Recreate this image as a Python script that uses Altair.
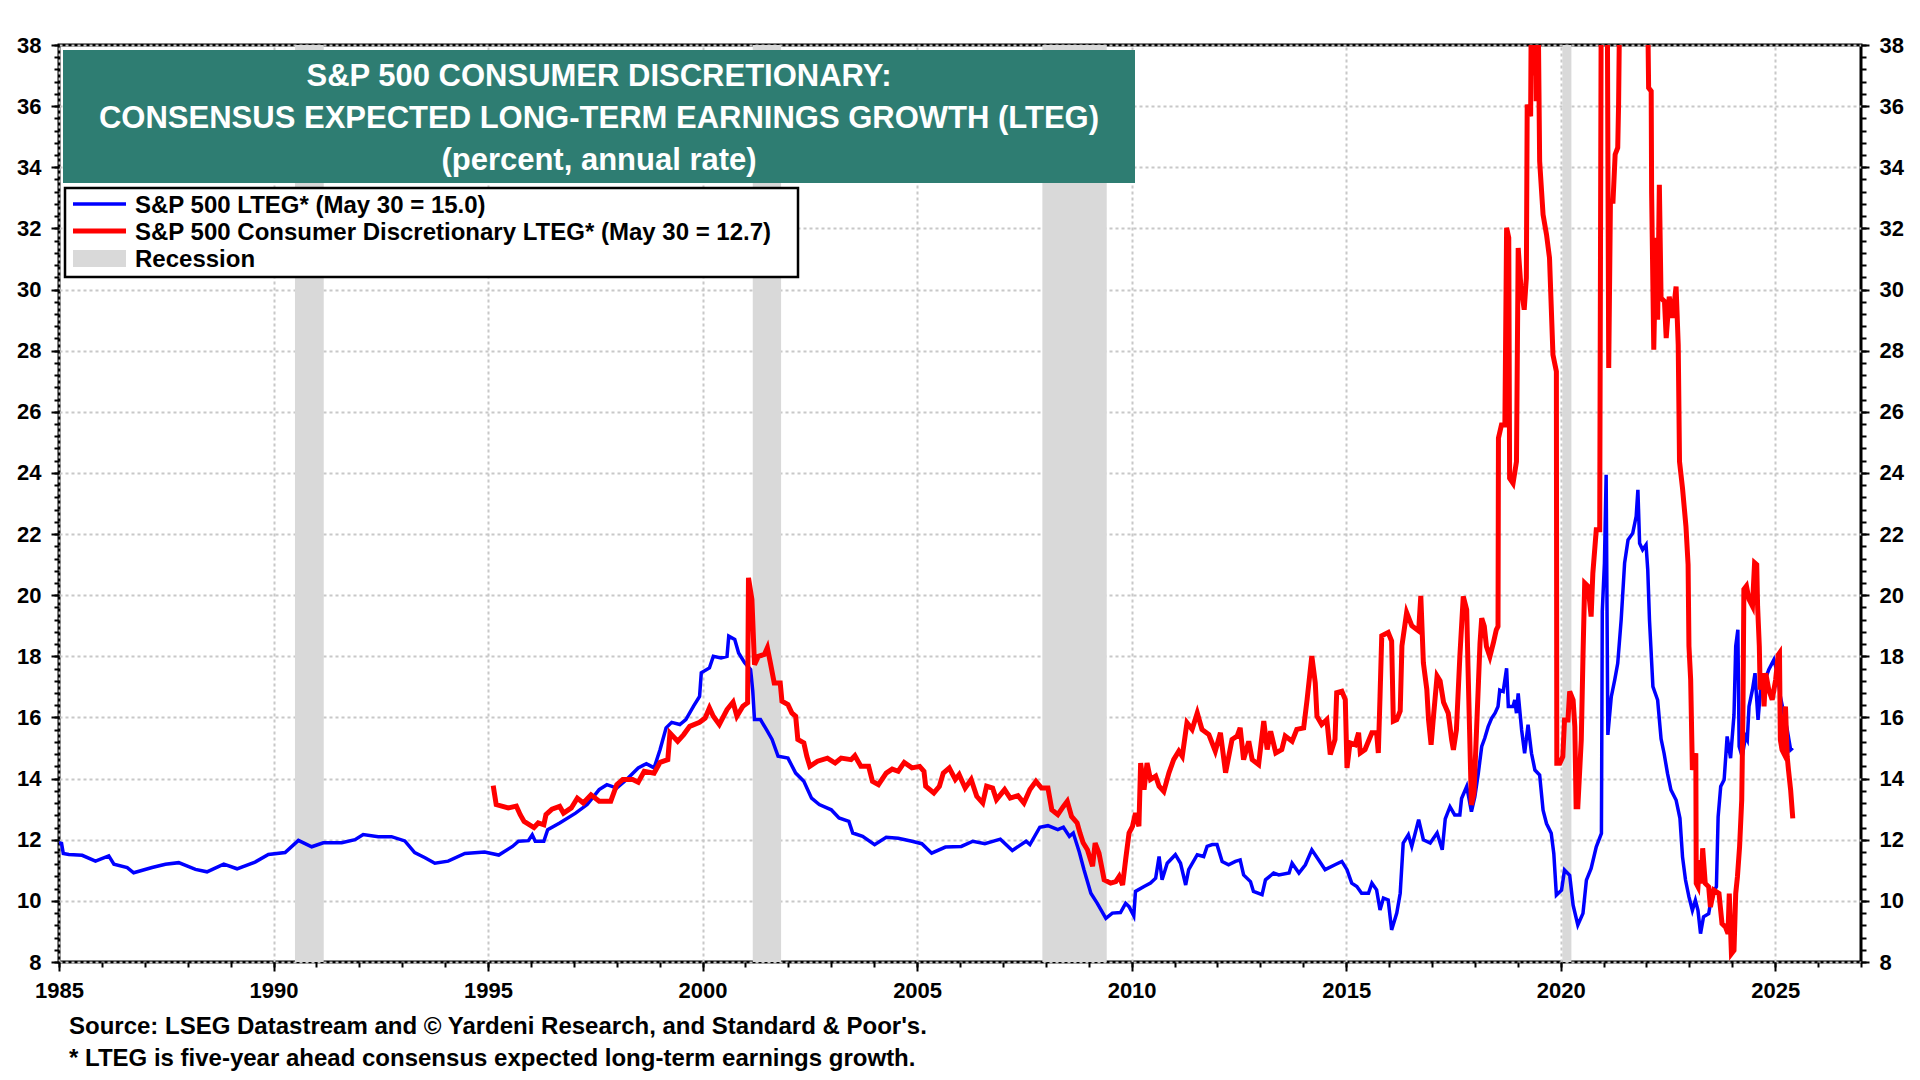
import altair as alt
import pandas as pd

# S&P 500 LTEG, percent (decimal year, value)
sp500_lteg = [
    (1985.00, 11.90), (1985.06, 11.88), (1985.10, 11.55), (1985.23, 11.52), (1985.54, 11.49),
    (1985.85, 11.30), (1986.16, 11.47), (1986.28, 11.20), (1986.59, 11.09), (1986.74, 10.92),
    (1987.17, 11.09), (1987.48, 11.20), (1987.79, 11.25), (1988.18, 11.03), (1988.45, 10.95),
    (1988.84, 11.20), (1989.15, 11.05), (1989.57, 11.27), (1989.88, 11.52), (1990.27, 11.58),
    (1990.58, 11.98), (1990.89, 11.77), (1991.16, 11.90), (1991.59, 11.90), (1991.90, 12.00),
    (1992.09, 12.17), (1992.44, 12.10), (1992.75, 12.10), (1993.06, 11.96), (1993.29, 11.58),
    (1993.53, 11.41), (1993.76, 11.23), (1994.07, 11.30), (1994.46, 11.55), (1994.92, 11.60),
    (1995.25, 11.50), (1995.57, 11.78), (1995.71, 11.95), (1995.94, 11.97), (1996.03, 12.16),
    (1996.10, 11.95), (1996.30, 11.95), (1996.39, 12.33), (1996.67, 12.55), (1997.04, 12.87),
    (1997.31, 13.15), (1997.59, 13.64), (1997.77, 13.80), (1998.00, 13.69), (1998.23, 13.97),
    (1998.50, 14.35), (1998.69, 14.49), (1998.87, 14.35), (1999.01, 14.95), (1999.15, 15.66),
    (1999.28, 15.84), (1999.47, 15.77), (1999.61, 15.93), (1999.79, 16.37), (1999.93, 16.69),
    (1999.97, 17.46), (2000.16, 17.62), (2000.25, 18.00), (2000.43, 17.95), (2000.57, 18.00),
    (2000.61, 18.66), (2000.75, 18.55), (2000.84, 18.11), (2000.98, 17.79), (2001.12, 17.57),
    (2001.17, 16.86), (2001.21, 15.93), (2001.35, 15.93), (2001.49, 15.60), (2001.62, 15.28),
    (2001.76, 14.73), (2001.99, 14.67), (2002.17, 14.18), (2002.36, 13.91), (2002.54, 13.36),
    (2002.72, 13.15), (2003.00, 12.98), (2003.18, 12.71), (2003.41, 12.60), (2003.50, 12.22),
    (2003.73, 12.11), (2004.01, 11.84), (2004.28, 12.08), (2004.56, 12.05), (2004.88, 11.95),
    (2005.11, 11.87), (2005.34, 11.56), (2005.66, 11.76), (2006.03, 11.78), (2006.30, 11.95),
    (2006.58, 11.87), (2006.94, 12.02), (2007.22, 11.65), (2007.54, 11.95), (2007.63, 11.84),
    (2007.86, 12.41), (2008.05, 12.46), (2008.28, 12.33), (2008.41, 12.41), (2008.55, 12.11),
    (2008.64, 12.22), (2008.78, 11.60), (2008.89, 11.02), (2009.05, 10.25), (2009.20, 9.92),
    (2009.40, 9.43), (2009.55, 9.60), (2009.74, 9.62), (2009.86, 9.92), (2009.94, 9.81),
    (2010.05, 9.51), (2010.09, 10.31), (2010.29, 10.47), (2010.44, 10.58), (2010.56, 10.74),
    (2010.64, 11.45), (2010.71, 10.69), (2010.83, 11.23), (2011.02, 11.51), (2011.14, 11.23),
    (2011.26, 10.52), (2011.33, 11.02), (2011.53, 11.51), (2011.68, 11.45), (2011.76, 11.78),
    (2011.88, 11.84), (2011.99, 11.84), (2012.11, 11.29), (2012.26, 11.18), (2012.42, 11.29),
    (2012.53, 11.34), (2012.61, 10.85), (2012.77, 10.63), (2012.84, 10.31), (2013.04, 10.20),
    (2013.12, 10.69), (2013.31, 10.91), (2013.43, 10.85), (2013.67, 10.91), (2013.74, 11.23),
    (2013.90, 10.91), (2014.05, 11.18), (2014.20, 11.67), (2014.36, 11.34), (2014.51, 11.02),
    (2014.74, 11.18), (2014.90, 11.29), (2015.02, 11.02), (2015.13, 10.58), (2015.25, 10.47),
    (2015.36, 10.25), (2015.52, 10.25), (2015.60, 10.58), (2015.71, 10.36), (2015.79, 9.70),
    (2015.87, 10.09), (2015.98, 10.03), (2016.06, 9.05), (2016.18, 9.60), (2016.26, 10.25),
    (2016.33, 11.89), (2016.45, 12.16), (2016.53, 11.78), (2016.69, 12.66), (2016.80, 12.00),
    (2016.96, 11.89), (2017.12, 12.22), (2017.24, 11.67), (2017.31, 12.68), (2017.42, 13.08),
    (2017.53, 12.81), (2017.65, 12.81), (2017.69, 13.35), (2017.81, 13.74), (2017.92, 12.92),
    (2018.00, 13.41), (2018.08, 14.17), (2018.16, 15.05), (2018.23, 15.32), (2018.31, 15.70),
    (2018.39, 15.97), (2018.47, 16.14), (2018.54, 16.36), (2018.58, 16.90), (2018.66, 16.85),
    (2018.74, 17.61), (2018.78, 16.36), (2018.89, 16.36), (2018.93, 16.57), (2018.97, 16.14),
    (2019.01, 16.79), (2019.09, 15.59), (2019.16, 14.83), (2019.24, 15.76), (2019.32, 14.83),
    (2019.40, 14.28), (2019.51, 14.12), (2019.59, 12.97), (2019.67, 12.53), (2019.78, 12.21),
    (2019.84, 11.55), (2019.90, 10.19), (2020.02, 10.35), (2020.09, 11.01), (2020.21, 10.84),
    (2020.29, 9.86), (2020.40, 9.21), (2020.52, 9.59), (2020.60, 10.68), (2020.71, 11.06),
    (2020.83, 11.77), (2020.95, 12.21), (2020.97, 19.47), (2021.02, 21.05), (2021.06, 23.94),
    (2021.10, 15.43), (2021.18, 16.68), (2021.26, 17.23), (2021.33, 17.77), (2021.41, 19.19),
    (2021.49, 21.05), (2021.57, 21.81), (2021.68, 22.03), (2021.76, 22.58), (2021.80, 23.45),
    (2021.84, 21.70), (2021.91, 21.49), (2021.99, 21.65), (2022.03, 20.83), (2022.07, 19.19),
    (2022.15, 17.01), (2022.26, 16.57), (2022.34, 15.30), (2022.41, 14.83), (2022.49, 14.17),
    (2022.57, 13.63), (2022.69, 13.30), (2022.78, 12.70), (2022.84, 11.44), (2022.91, 10.68),
    (2022.99, 10.13), (2023.07, 9.69), (2023.14, 10.02), (2023.20, 9.69), (2023.26, 8.93),
    (2023.33, 9.48), (2023.45, 9.58), (2023.53, 10.24), (2023.63, 10.46), (2023.67, 12.75),
    (2023.73, 13.74), (2023.81, 13.96), (2023.88, 15.38), (2023.96, 14.67), (2024.04, 16.09),
    (2024.08, 18.33), (2024.13, 18.87), (2024.16, 15.05), (2024.23, 14.72), (2024.31, 15.38),
    (2024.35, 15.27), (2024.39, 16.36), (2024.47, 16.91), (2024.53, 17.45), (2024.60, 15.92),
    (2024.66, 16.91), (2024.74, 17.13), (2024.85, 17.56), (2024.97, 17.89), (2025.05, 17.45),
    (2025.12, 16.69), (2025.20, 16.14), (2025.28, 15.60), (2025.36, 14.94), (2025.41, 15.00),
]

# S&P 500 Consumer Discretionary LTEG, percent (values above 38 run off the top)
discretionary_lteg = [
    (1995.12, 13.77), (1995.19, 13.15), (1995.47, 13.04), (1995.66, 13.10), (1995.75, 12.82),
    (1995.84, 12.60), (1996.07, 12.40), (1996.17, 12.55), (1996.30, 12.49), (1996.35, 12.82),
    (1996.49, 13.00), (1996.67, 13.09), (1996.76, 12.87), (1996.94, 13.04), (1997.08, 13.36),
    (1997.22, 13.20), (1997.40, 13.47), (1997.59, 13.26), (1997.86, 13.26), (1998.00, 13.80),
    (1998.14, 13.97), (1998.37, 13.97), (1998.50, 13.88), (1998.64, 14.24), (1998.87, 14.18),
    (1999.01, 14.53), (1999.19, 14.62), (1999.24, 15.49), (1999.42, 15.22), (1999.56, 15.44),
    (1999.70, 15.71), (1999.93, 15.84), (2000.06, 15.98), (2000.16, 16.31), (2000.25, 16.04),
    (2000.39, 15.77), (2000.57, 16.26), (2000.71, 16.50), (2000.80, 16.04), (2000.94, 16.37),
    (2001.05, 16.48), (2001.07, 20.57), (2001.15, 19.86), (2001.21, 17.73), (2001.30, 18.00),
    (2001.44, 18.06), (2001.51, 18.28), (2001.58, 17.79), (2001.67, 17.13), (2001.81, 17.13),
    (2001.85, 16.53), (2001.99, 16.42), (2002.08, 16.15), (2002.17, 16.04), (2002.22, 15.28),
    (2002.36, 15.17), (2002.43, 14.73), (2002.50, 14.40), (2002.68, 14.57), (2002.91, 14.67),
    (2003.09, 14.51), (2003.23, 14.67), (2003.46, 14.62), (2003.55, 14.75), (2003.69, 14.40),
    (2003.87, 14.40), (2003.96, 13.91), (2004.10, 13.80), (2004.28, 14.18), (2004.42, 14.31),
    (2004.56, 14.24), (2004.70, 14.53), (2004.88, 14.35), (2005.06, 14.40), (2005.16, 14.24),
    (2005.20, 13.75), (2005.39, 13.53), (2005.52, 13.75), (2005.61, 14.18), (2005.75, 14.35),
    (2005.89, 13.97), (2005.98, 14.13), (2006.12, 13.69), (2006.26, 13.97), (2006.39, 13.42),
    (2006.53, 13.20), (2006.62, 13.75), (2006.76, 13.69), (2006.85, 13.31), (2007.04, 13.64),
    (2007.17, 13.36), (2007.35, 13.44), (2007.49, 13.20), (2007.63, 13.64), (2007.77, 13.91),
    (2007.90, 13.69), (2008.05, 13.69), (2008.14, 12.98), (2008.28, 12.82), (2008.41, 13.09),
    (2008.50, 13.26), (2008.60, 12.76), (2008.73, 12.55), (2008.80, 12.20), (2008.87, 11.90),
    (2008.97, 11.67), (2009.09, 11.13), (2009.15, 11.89), (2009.24, 11.56), (2009.36, 10.69),
    (2009.51, 10.58), (2009.63, 10.63), (2009.71, 10.80), (2009.79, 10.52), (2009.86, 11.34),
    (2009.94, 12.22), (2010.02, 12.44), (2010.09, 12.87), (2010.17, 12.44), (2010.21, 14.51),
    (2010.29, 13.64), (2010.36, 14.51), (2010.44, 13.97), (2010.56, 14.08), (2010.64, 13.75),
    (2010.75, 13.58), (2010.87, 14.19), (2010.98, 14.62), (2011.10, 14.90), (2011.18, 14.73),
    (2011.29, 15.83), (2011.41, 15.61), (2011.53, 16.15), (2011.64, 15.61), (2011.80, 15.44),
    (2011.95, 14.90), (2012.07, 15.50), (2012.19, 14.19), (2012.34, 15.28), (2012.46, 15.39),
    (2012.53, 15.66), (2012.61, 14.62), (2012.73, 15.22), (2012.81, 14.62), (2012.96, 14.46),
    (2013.08, 15.88), (2013.16, 14.95), (2013.24, 15.55), (2013.36, 14.84), (2013.50, 14.95),
    (2013.58, 15.39), (2013.74, 15.22), (2013.85, 15.61), (2014.01, 15.66), (2014.09, 16.59),
    (2014.20, 18.01), (2014.28, 17.14), (2014.32, 16.04), (2014.43, 15.77), (2014.55, 15.93),
    (2014.63, 14.79), (2014.74, 15.28), (2014.78, 16.81), (2014.90, 16.86), (2014.98, 16.59),
    (2015.02, 14.35), (2015.09, 15.17), (2015.21, 15.11), (2015.29, 15.50), (2015.33, 14.84),
    (2015.44, 14.95), (2015.60, 15.50), (2015.71, 15.50), (2015.75, 14.84), (2015.79, 16.70),
    (2015.83, 18.67), (2015.98, 18.78), (2016.06, 18.50), (2016.10, 15.88), (2016.18, 15.93),
    (2016.26, 16.21), (2016.30, 18.34), (2016.41, 19.43), (2016.53, 19.00), (2016.69, 18.83),
    (2016.74, 19.98), (2016.80, 17.79), (2016.88, 16.92), (2016.92, 15.93), (2016.98, 15.11),
    (2017.04, 16.10), (2017.12, 17.36), (2017.19, 17.20), (2017.27, 16.50), (2017.38, 16.14),
    (2017.46, 15.26), (2017.50, 14.94), (2017.57, 15.59), (2017.65, 17.99), (2017.73, 19.96),
    (2017.81, 19.52), (2017.84, 17.67), (2017.92, 13.14), (2017.98, 13.52), (2018.08, 17.01),
    (2018.12, 18.43), (2018.16, 19.25), (2018.22, 18.98), (2018.27, 18.32), (2018.35, 17.99),
    (2018.43, 18.43), (2018.50, 18.87), (2018.54, 18.98), (2018.55, 25.14), (2018.62, 25.57),
    (2018.70, 25.57), (2018.74, 32.02), (2018.79, 31.69), (2018.81, 23.83), (2018.89, 23.66),
    (2018.97, 24.37), (2019.01, 31.36), (2019.07, 30.16), (2019.15, 29.34), (2019.20, 30.38),
    (2019.22, 36.05), (2019.30, 35.67), (2019.32, 40.50), (2019.36, 37.00), (2019.40, 41.00),
    (2019.43, 36.16), (2019.47, 40.00), (2019.51, 34.20), (2019.59, 32.45), (2019.67, 31.80),
    (2019.74, 31.03), (2019.82, 27.87), (2019.90, 27.32), (2019.91, 14.50), (2019.98, 14.50),
    (2020.05, 14.72), (2020.09, 15.92), (2020.17, 15.92), (2020.21, 16.85), (2020.29, 16.57),
    (2020.33, 15.70), (2020.36, 13.08), (2020.40, 13.08), (2020.48, 15.26), (2020.52, 17.99),
    (2020.56, 20.40), (2020.64, 20.29), (2020.71, 19.30), (2020.75, 20.72), (2020.83, 22.14),
    (2020.91, 22.14), (2020.95, 42.00), (2021.02, 44.00), (2021.08, 42.00), (2021.12, 27.43),
    (2021.16, 32.89), (2021.22, 32.89), (2021.27, 34.42), (2021.33, 34.64), (2021.35, 36.05),
    (2021.38, 40.00), (2021.55, 44.00), (2021.75, 45.00), (2021.92, 42.00), (2022.03, 39.00),
    (2022.05, 36.60), (2022.11, 36.49), (2022.12, 33.16), (2022.17, 28.03), (2022.22, 31.69),
    (2022.26, 29.01), (2022.30, 33.43), (2022.34, 29.72), (2022.42, 29.61), (2022.46, 28.41),
    (2022.53, 29.77), (2022.61, 29.07), (2022.69, 30.10), (2022.74, 28.19), (2022.77, 24.37),
    (2022.84, 23.50), (2022.92, 22.25), (2022.97, 21.00), (2022.99, 18.33), (2023.03, 17.23),
    (2023.07, 14.28), (2023.15, 14.83), (2023.16, 10.57), (2023.20, 10.46), (2023.24, 11.33),
    (2023.28, 10.57), (2023.31, 11.72), (2023.37, 10.57), (2023.45, 10.46), (2023.49, 9.80),
    (2023.57, 10.35), (2023.69, 10.24), (2023.76, 9.26), (2023.84, 9.15), (2023.90, 8.93),
    (2023.93, 10.24), (2023.98, 8.27), (2024.04, 8.38), (2024.08, 10.24), (2024.12, 10.79),
    (2024.17, 11.77), (2024.22, 13.30), (2024.25, 16.36), (2024.27, 20.19), (2024.33, 20.30),
    (2024.39, 19.86), (2024.47, 19.64), (2024.52, 21.06), (2024.57, 21.00), (2024.59, 19.64),
    (2024.63, 18.33), (2024.65, 16.91), (2024.71, 17.45), (2024.74, 16.36), (2024.78, 17.45),
    (2024.85, 16.91), (2024.93, 16.58), (2025.01, 17.23), (2025.07, 18.05), (2025.10, 18.11),
    (2025.12, 15.27), (2025.16, 14.94), (2025.20, 14.83), (2025.24, 16.36), (2025.28, 14.72),
    (2025.31, 14.28), (2025.36, 13.63), (2025.41, 12.70),
]

recession_start = [1990.50, 2001.17, 2007.92, 2020.04]
recession_end = [1991.17, 2001.83, 2009.42, 2020.25]

year_ticks = [1985, 1990, 1995, 2000, 2005, 2010, 2015, 2020, 2025]
minor_years = list(range(1985, 2028))
value_ticks = list(range(8, 40, 2))
minor_values = [round(8 + 0.4 * i, 1) for i in range(76)]

title_lines = [
    "S&P 500 CONSUMER DISCRETIONARY:",
    "CONSENSUS EXPECTED LONG-TERM EARNINGS GROWTH (LTEG)",
    "(percent, annual rate)",
]
legend_labels = [
    "S&P 500 LTEG* (May 30 = 15.0)",
    "S&P 500 Consumer Discretionary LTEG* (May 30 = 12.7)",
    "Recession",
]
footnotes = [
    "Source: LSEG Datastream and \u00a9 Yardeni Research, and Standard & Poor's.",
    "* LTEG is five-year ahead consensus expected long-term earnings growth.",
]

BLUE = "#0000ff"
RED = "#ff0000"
GREEN = "#2e7d72"
GREY = "#d9d9d9"
FONT = "Liberation Sans"
W, H = 1802, 917

blue_df = pd.DataFrame(sp500_lteg, columns=["year", "value"])
red_df = pd.DataFrame(discretionary_lteg, columns=["year", "value"])
rec_df = pd.DataFrame({"start": recession_start, "end": recession_end})

xs = alt.Scale(domain=[1985, 2027], nice=False, zero=False)
ys = alt.Scale(domain=[8, 38], nice=False, zero=False)

tick_style = dict(tickColor="black", tickWidth=2, domain=False, title=None, labelFlush=False)
label_style = dict(labelFont=FONT, labelFontSize=22, labelFontWeight="bold", labelColor="black")
grid_style = dict(grid=True, gridColor="#c8c8c8", gridDash=[3, 3], gridWidth=2)

x_axis = alt.Axis(orient="bottom", values=year_ticks, format="d", tickSize=9, labelPadding=9,
                  **tick_style, **label_style, **grid_style)
x_axis_minor = alt.Axis(orient="bottom", values=minor_years, tickSize=5, labels=False, grid=False,
                        **tick_style)
y_axis_left = alt.Axis(orient="left", values=value_ticks, tickSize=8, labelPadding=10,
                       **tick_style, **label_style, **grid_style)
y_axis_right = alt.Axis(orient="right", values=value_ticks, tickSize=8, labelPadding=10, grid=False,
                        **tick_style, **label_style)
y_minor_left = alt.Axis(orient="left", values=minor_values, tickSize=5, labels=False, grid=False,
                        **tick_style)
y_minor_right = alt.Axis(orient="right", values=minor_values, tickSize=5, labels=False, grid=False,
                         **tick_style)


def axis_layer(values, channel, axis):
    # invisible points that only carry an axis (ticks / labels / grid)
    df = pd.DataFrame({"v": values})
    if channel == "x":
        enc = {"x": alt.X("v:Q", scale=xs, axis=axis)}
    else:
        enc = {"y": alt.Y("v:Q", scale=ys, axis=axis)}
    return alt.Chart(df).mark_point(opacity=0).encode(**enc)


def one_row(text=""):
    return alt.Chart(pd.DataFrame({"t": [text]}))


recessions = alt.Chart(rec_df).mark_rect(color=GREY).encode(
    x=alt.X("start:Q", scale=xs, axis=x_axis),
    x2="end:Q",
    y=alt.value(0),
    y2=alt.value(H),
)

blue_line = alt.Chart(blue_df).mark_line(color=BLUE, strokeWidth=3.5, clip=True).encode(
    x=alt.X("year:Q", scale=xs, axis=None),
    y=alt.Y("value:Q", scale=ys, axis=None),
)
red_line = alt.Chart(red_df).mark_line(color=RED, strokeWidth=5, clip=True).encode(
    x=alt.X("year:Q", scale=xs, axis=None),
    y=alt.Y("value:Q", scale=ys, axis=None),
)

layers = [
    recessions,
    axis_layer(minor_years, "x", x_axis_minor),
    axis_layer(value_ticks, "y", y_axis_left),
    axis_layer(value_ticks, "y", y_axis_right),
    axis_layer(minor_values, "y", y_minor_left),
    axis_layer(minor_values, "y", y_minor_right),
    blue_line,
    red_line,
    # title banner
    one_row().mark_rect(color=GREEN).encode(
        x=alt.value(4), x2=alt.value(1076), y=alt.value(5), y2=alt.value(138)
    ),
]
for line, ypos in zip(title_lines, [32, 74, 116]):
    layers.append(
        one_row(line).mark_text(font=FONT, fontSize=31, fontWeight="bold", color="white",
                                align="center", baseline="middle")
        .encode(text="t:N", x=alt.value(540), y=alt.value(ypos))
    )

# legend box
layers.append(
    one_row().mark_rect(fill="white", stroke="black", strokeWidth=2.5).encode(
        x=alt.value(6), x2=alt.value(739), y=alt.value(143), y2=alt.value(232)
    )
)
layers.append(one_row().mark_rule(color=BLUE, strokeWidth=3.5).encode(
    x=alt.value(14), x2=alt.value(67), y=alt.value(159)))
layers.append(one_row().mark_rule(color=RED, strokeWidth=5).encode(
    x=alt.value(14), x2=alt.value(67), y=alt.value(186)))
layers.append(one_row().mark_rect(color=GREY).encode(
    x=alt.value(14), x2=alt.value(67), y=alt.value(205), y2=alt.value(222)))
for label, ypos in zip(legend_labels, [160.5, 187.5, 214.5]):
    layers.append(
        one_row(label).mark_text(font=FONT, fontSize=24, fontWeight="bold", color="black",
                                 align="left", baseline="middle")
        .encode(text="t:N", x=alt.value(76), y=alt.value(ypos))
    )

# footnotes under the axis
for note, ypos in zip(footnotes, [982, 1014]):
    layers.append(
        one_row(note).mark_text(font=FONT, fontSize=24, fontWeight="bold", color="black",
                                align="left", baseline="middle")
        .encode(text="t:N", x=alt.value(10), y=alt.value(ypos))
    )

chart = (
    alt.layer(*layers)
    .resolve_axis(x="independent", y="independent")
    .properties(
        width=W,
        height=H,
        autosize=alt.AutoSizeParams(type="none"),
        padding={"left": 51, "top": 37, "right": 50, "bottom": 110},
        background="white",
    )
    .configure_view(stroke="black", strokeWidth=3)
)

chart.save("out.html", embed_options={"renderer": "svg", "actions": False})
